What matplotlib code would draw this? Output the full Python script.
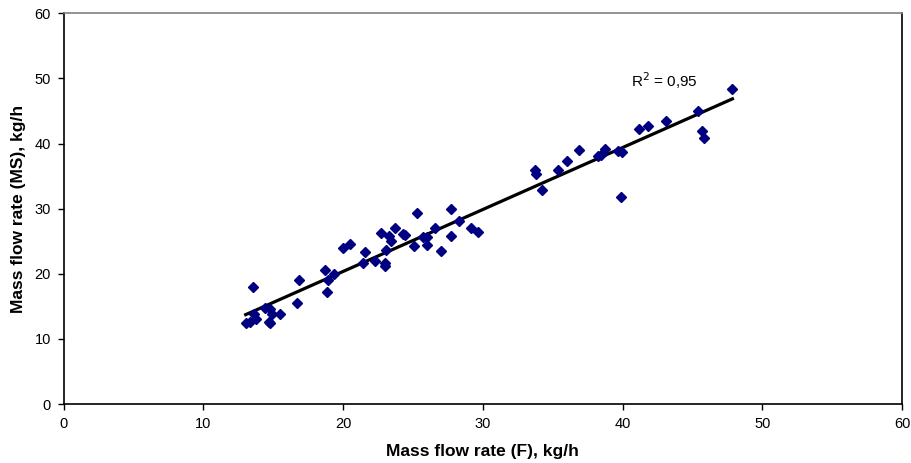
import matplotlib
matplotlib.use("Agg")
import matplotlib.pyplot as plt
import numpy as np

plt.rcParams['font.family'] = ['Liberation Sans', 'DejaVu Sans']

flow_f = [13.03, 13.32, 13.55, 13.66, 13.79, 14.39, 14.69, 14.79, 14.79, 14.93, 15.51,
          16.70, 16.87, 18.68, 18.85, 18.92, 19.38, 19.99, 20.49, 21.39, 21.59, 22.30,
          22.70, 23.00, 23.00, 23.10, 23.30, 23.40, 23.70, 24.30, 24.40, 25.11, 25.31,
          25.71, 26.01, 26.01, 26.61, 27.02, 27.72, 27.72, 28.32, 29.18, 29.63,
          33.74, 33.84, 34.20, 35.35, 36.05, 36.86, 38.26, 38.46, 38.77, 39.67, 39.92,
          39.97, 41.18, 41.83, 43.08, 45.39, 45.65, 45.80, 47.86]
flow_ms = [12.5, 12.6, 18.0, 13.9, 13.1, 14.8, 12.6, 12.4, 14.6, 13.8, 13.9,
           15.5, 19.0, 20.6, 17.2, 19.0, 20.0, 23.9, 24.6, 21.7, 23.3, 22.0,
           26.2, 21.6, 21.2, 23.6, 25.8, 25.1, 27.1, 26.1, 25.9, 24.2, 29.3,
           25.7, 25.6, 24.4, 27.0, 23.5, 30.0, 25.8, 28.1, 27.0, 26.4,
           36.0, 35.4, 32.8, 36.0, 37.3, 39.0, 38.1, 38.2, 39.1, 38.8, 31.8,
           38.7, 42.2, 42.7, 43.5, 45.0, 41.9, 40.9, 48.4]
r2_label = "R$^2$ = 0,95"

x = np.array(flow_f)
y = np.array(flow_ms)
slope, intercept = np.polyfit(x, y, 1)

fig = plt.figure(figsize=(9.11, 4.63), dpi=100)
ax = fig.add_axes([0.0698, 0.1274, 0.9204, 0.8438])

xl = np.array([x.min(), x.max()])
ax.plot(xl, slope * xl + intercept, color='black', lw=2.3, zorder=2)
ax.plot(x, y, linestyle='none', marker='D', markersize=5.5, color='#000080',
        markeredgecolor='#000080', zorder=3)

ax.set_xlim(0, 60)
ax.set_ylim(0, 60)
ax.set_xticks(np.arange(0, 61, 10))
ax.set_yticks(np.arange(0, 61, 10))
ax.tick_params(axis='both', labelsize=10.5, length=4, width=1, direction='out', pad=5)
for s in ['left', 'bottom', 'right']:
    ax.spines[s].set_color('black')
    ax.spines[s].set_linewidth(1.2)
ax.spines['top'].set_color('#808080')
ax.spines['top'].set_linewidth(1.2)

ax.set_xlabel('Mass flow rate (F), kg/h', fontsize=12.5, fontweight='bold', labelpad=10)
ax.set_ylabel('Mass flow rate (MS), kg/h', fontsize=12.5, fontweight='bold', labelpad=6)
ax.text(40.6, 49.7, r2_label, fontsize=11, ha='left', va='center')

fig.savefig('out.png', dpi=100)
